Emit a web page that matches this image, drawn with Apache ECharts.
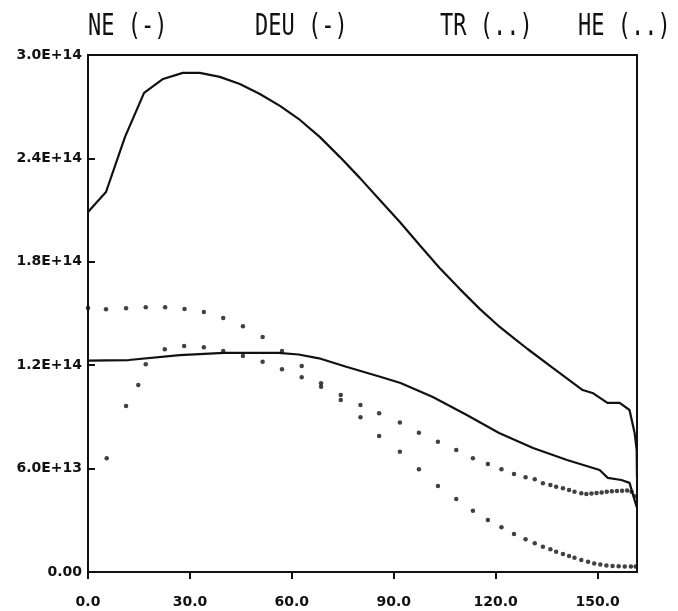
<!DOCTYPE html>
<html>
<head>
<meta charset="utf-8">
<script src="https://cdn.jsdelivr.net/npm/echarts@6/dist/echarts.min.js"></script>
<style>
html,body{margin:0;padding:0;background:#fff;}
#chart{width:678px;height:611px;}
</style>
</head>
<body>
<div id="chart"></div>
<script>
// ---- data (values in units of 1E+14) ----
var titleParts = ['NE (-)', 'DEU (-)', 'TR (..)', 'HE (..)'];
var yTickLabels = ['0.00', '6.0E+13', '1.2E+14', '1.8E+14', '2.4E+14', '3.0E+14'];
var xTickLabels = ['0.0', '30.0', '60.0', '90.0', '120.0', '150.0'];

// NE (-) upper solid curve
var neX = [0, 5.3, 10.9, 16.5, 22.1, 27.9, 32.9, 38.8, 44.7, 50.6, 56.5, 62.4, 68.2, 74.1, 80.0, 85.9, 91.8, 97.6, 103.5, 109.4, 115.3, 121.2, 125.6, 129.4, 136.8, 145.6, 148.5, 152.9, 156.5, 159.4, 160.9, 161.5, 161.6];
var neY = [2.089, 2.205, 2.525, 2.780, 2.861, 2.896, 2.896, 2.873, 2.832, 2.774, 2.705, 2.623, 2.525, 2.409, 2.287, 2.159, 2.031, 1.898, 1.764, 1.643, 1.527, 1.422, 1.353, 1.294, 1.184, 1.056, 1.039, 0.981, 0.981, 0.940, 0.807, 0.708, 0.55];

// DEU (-) lower solid curve
var deuX = [0, 12, 27, 40, 56, 62, 68, 76, 86, 92, 101.5, 111.5, 121, 131, 141, 150.6, 153, 157, 159.4, 160.3, 161.5];
var deuY = [1.226, 1.230, 1.259, 1.271, 1.271, 1.262, 1.240, 1.191, 1.133, 1.097, 1.016, 0.911, 0.807, 0.720, 0.650, 0.592, 0.546, 0.534, 0.517, 0.458, 0.377];

// TR (..) upper dotted series
var trX = [0, 5.3, 11.2, 17.0, 22.7, 28.4, 34.1, 39.8, 45.6, 51.4, 57.1, 62.9, 68.6, 74.4, 80.2, 85.7, 91.8, 97.4, 103.0, 108.4, 113.3, 117.7, 121.7, 125.4, 128.8, 131.5, 133.9, 136.1, 137.8, 139.8, 141.6, 143.2, 145.2, 146.7, 148.2, 149.7, 151.2, 152.7, 154.2, 155.7, 157.2, 158.7, 160.0, 161.0];
var trY = [1.532, 1.525, 1.530, 1.536, 1.536, 1.526, 1.509, 1.474, 1.426, 1.364, 1.283, 1.196, 1.095, 1.027, 0.969, 0.921, 0.867, 0.808, 0.756, 0.708, 0.660, 0.627, 0.596, 0.569, 0.550, 0.538, 0.515, 0.505, 0.495, 0.486, 0.476, 0.466, 0.457, 0.453, 0.455, 0.458, 0.462, 0.465, 0.468, 0.470, 0.472, 0.473, 0.465, 0.44];

// HE (..) lower dotted series
var heX = [5.5, 11.2, 14.8, 17.0, 22.6, 28.3, 34.1, 39.8, 45.6, 51.4, 57.1, 62.9, 68.6, 74.4, 80.2, 85.7, 91.8, 97.4, 103.0, 108.4, 113.3, 117.7, 121.7, 125.4, 128.8, 131.5, 133.9, 136.1, 137.8, 139.8, 141.6, 143.2, 145.2, 147.2, 149.0, 150.8, 152.6, 154.4, 156.2, 158.0, 159.8, 161.2];
var heY = [0.660, 0.963, 1.085, 1.205, 1.293, 1.312, 1.304, 1.283, 1.254, 1.220, 1.176, 1.130, 1.075, 0.998, 0.898, 0.789, 0.698, 0.596, 0.499, 0.424, 0.356, 0.302, 0.259, 0.221, 0.190, 0.167, 0.147, 0.132, 0.118, 0.104, 0.093, 0.083, 0.070, 0.060, 0.050, 0.043, 0.038, 0.035, 0.033, 0.032, 0.032, 0.032];

var SCALE = 1e14;
function pairs(xs, ys) {
  return xs.map(function (x, i) { return [x, ys[i] * SCALE]; });
}

var chart = echarts.init(document.getElementById('chart'), null, {renderer: 'canvas'});

var titleLefts = [88, 255, 440, 578];
var graphics = titleParts.map(function (t, i) {
  return {
    type: 'text',
    x: titleLefts[i],
    y: 27,
    scaleX: 1.0,
    scaleY: 1.35,
    style: {
      text: t,
      font: 'normal 22px "DejaVu Sans Mono", monospace',
      fill: '#111',
      textAlign: 'left',
      textVerticalAlign: 'middle'
    }
  };
});

var labelFont = {
  fontFamily: '"DejaVu Sans", sans-serif',
  fontWeight: 'bold',
  fontSize: 14,
  color: '#111'
};

chart.setOption({
  animation: false,
  backgroundColor: '#fff',
  graphic: graphics,
  grid: {
    left: 88, right: 41, top: 55, bottom: 39,
    show: true, borderColor: '#111', borderWidth: 2, backgroundColor: 'transparent'
  },
  xAxis: {
    type: 'value',
    min: 0, max: 161.6, interval: 30,
    splitLine: {show: false},
    axisLine: {show: true, onZero: false, lineStyle: {color: '#111', width: 2}},
    axisTick: {show: true, inside: false, length: 7, lineStyle: {color: '#111', width: 2}},
    axisLabel: Object.assign({
      margin: 23,
      showMaxLabel: false,
      formatter: function (v) {
        var k = Math.round(v / 30);
        return (Math.abs(v - k * 30) < 1e-6) ? (xTickLabels[k] || '') : '';
      }
    }, labelFont)
  },
  yAxis: {
    type: 'value',
    min: 0, max: 3e14, interval: 6e13,
    splitLine: {show: false},
    axisLine: {show: true, lineStyle: {color: '#111', width: 2}},
    axisTick: {show: true, inside: true, length: 7, lineStyle: {color: '#111', width: 2}},
    axisLabel: Object.assign({
      margin: 6,
      formatter: function (v) {
        var k = Math.round(v / 6e13);
        return yTickLabels[k] || '';
      }
    }, labelFont)
  },
  series: [
    {
      name: 'NE', type: 'line', data: pairs(neX, neY),
      showSymbol: false, symbol: 'none', smooth: false,
      lineStyle: {color: '#111', width: 2.2}, z: 3
    },
    {
      name: 'DEU', type: 'line', data: pairs(deuX, deuY),
      showSymbol: false, symbol: 'none', smooth: false,
      lineStyle: {color: '#111', width: 2.2}, z: 3
    },
    {
      name: 'TR', type: 'scatter', data: pairs(trX, trY),
      symbol: 'circle', symbolSize: 4.5,
      itemStyle: {color: '#111'}, z: 4
    },
    {
      name: 'HE', type: 'scatter', data: pairs(heX, heY),
      symbol: 'circle', symbolSize: 4.5,
      itemStyle: {color: '#111'}, z: 4
    }
  ]
});
</script>
</body>
</html>
